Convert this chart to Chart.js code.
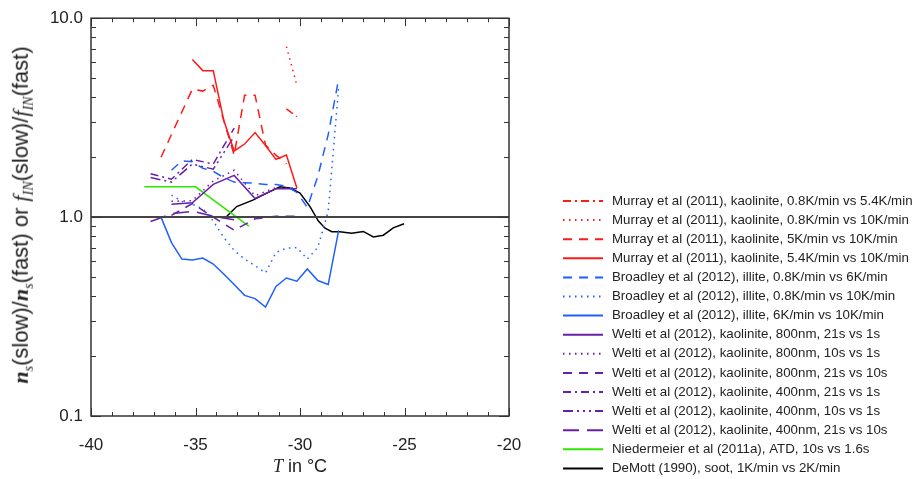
<!DOCTYPE html>
<html>
<head>
<meta charset="utf-8">
<script src="https://cdn.jsdelivr.net/npm/chart.js@4"></script>
<style>
  body { margin: 0; background: #fff; }
  #wrap { position: relative; width: 914px; height: 479px; }
  #chart { position: absolute; left: 0; top: 0; }
  .axis-title { position: absolute; font-family: "Liberation Sans", Arial, sans-serif; color: #222; white-space: nowrap; line-height: 1; }
  .axis-title i { font-family: "Liberation Serif", serif; }
  .axis-title sub { font-family: "Liberation Serif", serif; font-style: italic; }
  #xTitle { font-size: 18px; left: 300px; top: 466px; transform: translate(-50%, -50%); }
  #yTitle { font-size: 22px; left: 23px; top: 215px; transform: translate(-50%, -50%) rotate(-90deg); }
  #yTitle sub { font-size: 14px; }
</style>
</head>
<body>
<div id="wrap">
  <canvas id="chart" width="914" height="479"></canvas>
  <div class="axis-title" id="xTitle"><i>T</i> in °C</div>
  <div class="axis-title" id="yTitle"><b><i>n</i></b><sub>s</sub>(slow)/<b><i>n</i></b><sub>s</sub>(fast) or <i>f</i><sub>IN</sub>(slow)/<i>f</i><sub>IN</sub>(fast)</div>
</div>
<script>
// axis ranges and tick labels
const xRange = [-40, -20];
const yRange = [0.1, 10];
const yTickValues = [0.1, 1, 10];

// Murray et al (2011), kaolinite
const murray08v54T = [-30.65, -30.15];
const murray08v54 = [3.5, 3.2];
const murray08v10T = [-30.65, -30.15];
const murray08v10 = [7.2, 4.6];
const murray5v10T = [-36.65, -35.15, -34.65, -34.15, -33.15, -32.65, -32.15, -31.65, -31.15, -30.65];
const murray5v10 = [2.0, 4.4, 4.3, 4.6, 2.05, 4.1, 4.1, 2.3, 2.05, 1.85];
const murray54v10T = [-35.15, -34.65, -34.15, -33.65, -33.15, -32.65, -32.15, -31.65, -31.15, -30.65, -30.15];
const murray54v10 = [6.2, 5.45, 5.45, 3.07, 2.15, 2.33, 2.66, 2.29, 1.95, 2.05, 1.4];

// Broadley et al (2012), illite
const broadley08v6T = [-36.15, -35.65, -35.15, -34.65, -34.15, -33.65, -33.15, -32.65, -32.15, -31.65, -31.15, -30.65, -30.15, -29.65, -29.15, -28.65, -28.15];
const broadley08v6 = [1.72, 1.92, 1.9, 1.76, 1.7, 1.58, 1.5, 1.49, 1.48, 1.46, 1.46, 1.43, 1.33, 1.12, 1.6, 2.6, 4.95];
const broadley08v10T = [-36.15, -35.65, -35.15, -34.65, -34.15, -33.65, -33.15, -32.65, -32.15, -31.65, -31.15, -30.65, -30.15, -29.65, -29.15, -28.65, -28.15];
const broadley08v10 = [1.29, 1.2, 1.16, 1.1, 0.955, 0.79, 0.68, 0.615, 0.57, 0.524, 0.664, 0.698, 0.703, 0.615, 0.703, 1.07, 4.5];
const broadley6v10T = [-36.65, -36.15, -35.65, -35.15, -34.65, -34.15, -33.65, -33.15, -32.65, -32.15, -31.65, -31.15, -30.65, -30.15, -29.65, -29.15, -28.65, -28.15];
const broadley6v10 = [1.0, 0.744, 0.615, 0.608, 0.622, 0.581, 0.518, 0.458, 0.404, 0.389, 0.353, 0.448, 0.494, 0.476, 0.549, 0.48, 0.458, 0.858];

// Welti et al (2012), kaolinite
const welti800T = [-36.15, -35.15, -34.15, -33.15, -32.15, -31.15, -30.15];
const welti800_21v1 = [1.16, 1.18, 1.46, 1.62, 1.24, 1.39, 1.39];
const welti800_10v1 = [1.2, 1.21, 1.52, 1.72, 1.28, 1.41, 1.4];
const welti800_21v10 = [1.02, 1.17, 1.0, 0.86, 0.98, 1.01, 1.01];
const welti400T = [-37.15, -36.15, -35.15, -34.15, -33.15];
const welti400_21v1 = [1.65, 1.55, 1.95, 1.85, 2.8];
const welti400_10v1 = [1.58, 1.5, 1.85, 1.74, 2.55];
const welti400_21v10 = [0.95, 1.04, 1.07, 1.01, 0.97];

// Niedermeier et al (2011a), ATD
const niedT = [-37.45, -35.0, -32.45];
const nied = [1.42, 1.42, 0.9];

// DeMott (1990), soot
const demottT = [-33.5, -33.03, -32.23, -31.59, -30.96, -30.48, -30.0, -29.52, -29.12, -28.8, -28.48, -28.09, -27.53, -26.97, -26.49, -26.01, -25.54, -25.02];
const demott = [1.01, 1.13, 1.22, 1.32, 1.42, 1.4, 1.32, 1.13, 0.955, 0.879, 0.845, 0.845, 0.829, 0.847, 0.795, 0.811, 0.883, 0.926];

// reference line at ratio 1
const refLineT = [-40, -20];
const refLine = [1, 1];

const RED = '#ff1a1a';
const BLUE = '#1f5fff';
const PURPLE = '#6a1fa8';
const GREEN = '#2ee600';

const DASH = [9, 7];
const DOT = [1.5, 4.5];
const DASHDOT = [8, 4, 2, 4];
const DASH3DOT = [10, 4, 2, 4, 2, 4, 2, 4];
const LONGDASH = [16, 8];

function pts(xs, ys) {
    return xs.map((x, i) => ({ x: x, y: ys[i] }));
}

function series(label, xs, ys, color, dash) {
    return {
        label: label,
        data: pts(xs, ys),
        borderColor: color,
        backgroundColor: color,
        borderWidth: 1.5,
        borderDash: dash || [],
        pointRadius: 0,
        tension: 0,
        fill: false
    };
}

const datasets = [
    Object.assign(series('', refLineT, refLine, '#444', []), { borderWidth: 2, isRef: true }),
    series('Murray et al (2011), kaolinite, 0.8K/min vs 5.4K/min', murray08v54T, murray08v54, RED, DASHDOT),
    series('Murray et al (2011), kaolinite, 0.8K/min vs 10K/min', murray08v10T, murray08v10, RED, DOT),
    series('Murray et al (2011), kaolinite, 5K/min vs 10K/min', murray5v10T, murray5v10, RED, DASH),
    series('Murray et al (2011), kaolinite, 5.4K/min vs 10K/min', murray54v10T, murray54v10, RED),
    series('Broadley et al (2012), illite, 0.8K/min vs 6K/min', broadley08v6T, broadley08v6, BLUE, DASH),
    series('Broadley et al (2012), illite, 0.8K/min vs 10K/min', broadley08v10T, broadley08v10, BLUE, DOT),
    series('Broadley et al (2012), illite, 6K/min vs 10K/min', broadley6v10T, broadley6v10, BLUE),
    series('Welti et al (2012), kaolinite, 800nm, 21s vs 1s', welti800T, welti800_21v1, PURPLE),
    series('Welti et al (2012), kaolinite, 800nm, 10s vs 1s', welti800T, welti800_10v1, PURPLE, DOT),
    series('Welti et al (2012), kaolinite, 800nm, 21s vs 10s', welti800T, welti800_21v10, PURPLE, DASH),
    series('Welti et al (2012), kaolinite, 400nm, 21s vs 1s', welti400T, welti400_21v1, PURPLE, DASHDOT),
    series('Welti et al (2012), kaolinite, 400nm, 10s vs 1s', welti400T, welti400_10v1, PURPLE, DASH3DOT),
    series('Welti et al (2012), kaolinite, 400nm, 21s vs 10s', welti400T, welti400_21v10, PURPLE, LONGDASH),
    series('Niedermeier et al (2011a), ATD, 10s vs 1.6s', niedT, nied, GREEN),
    series('DeMott (1990), soot, 1K/min vs 2K/min', demottT, demott, '#000')
];

// frame and inward tick marks, like the original plot
const frameTicks = {
    id: 'frameTicks',
    afterDraw(chart) {
        const ctx = chart.ctx;
        const a = chart.chartArea;
        const xs = chart.scales.x, ys = chart.scales.y;
        ctx.save();
        ctx.strokeStyle = '#333';
        ctx.lineWidth = 1;
        ctx.beginPath();
        for (let v = xRange[0]; v <= xRange[1]; v++) {
            const px = Math.round(xs.getPixelForValue(v)) + 0.5;
            const len = v % 5 === 0 ? 8 : 4;
            ctx.moveTo(px, a.bottom); ctx.lineTo(px, a.bottom - len);
            ctx.moveTo(px, a.top); ctx.lineTo(px, a.top + len);
        }
        for (let d = 0.1; d < 10; d *= 10) {
            for (let k = 1; k <= 10; k++) {
                const v = d * k;
                const py = Math.round(ys.getPixelForValue(v)) + 0.5;
                const len = k === 1 || k === 10 ? 10 : 5;
                ctx.moveTo(a.left, py); ctx.lineTo(a.left + len, py);
                ctx.moveTo(a.right, py); ctx.lineTo(a.right - len, py);
            }
        }
        ctx.stroke();
        ctx.lineWidth = 1.5;
        ctx.strokeRect(a.left, a.top, a.right - a.left, a.bottom - a.top);
        ctx.restore();
    }
};

// legend at the lower right, one row per dataset
const sideLegend = {
    id: 'sideLegend',
    afterDraw(chart) {
        const ctx = chart.ctx;
        ctx.save();
        ctx.font = '13.3px "Liberation Sans", Arial, sans-serif';
        ctx.textBaseline = 'middle';
        let row = 0;
        chart.data.datasets.forEach(ds => {
            if (ds.isRef) return;
            const y = 201 + row * 19.1;
            ctx.strokeStyle = ds.borderColor;
            ctx.lineWidth = 2;
            ctx.setLineDash(ds.borderDash);
            ctx.beginPath();
            ctx.moveTo(563, y);
            ctx.lineTo(603, y);
            ctx.stroke();
            ctx.setLineDash([]);
            ctx.fillStyle = '#222';
            ctx.fillText(ds.label, 612, y);
            row++;
        });
        ctx.restore();
    }
};

new Chart(document.getElementById('chart'), {
    type: 'line',
    data: { datasets: datasets },
    options: {
        responsive: false,
        animation: false,
        layout: { padding: { left: 0, right: 405, top: 15, bottom: 0 } },
        plugins: { legend: { display: false }, tooltip: { enabled: false } },
        scales: {
            x: {
                type: 'linear',
                min: xRange[0],
                max: xRange[1],
                grid: { display: false, drawTicks: false },
                border: { display: false },
                ticks: {
                    stepSize: 5,
                    padding: 19,
                    color: '#222',
                    font: { family: '"Liberation Sans", Arial, sans-serif', size: 17 }
                },
                afterFit(scale) { scale.height = 63; }
            },
            y: {
                type: 'logarithmic',
                min: yRange[0],
                max: yRange[1],
                grid: { display: false, drawTicks: false },
                border: { display: false },
                afterBuildTicks(scale) {
                    scale.ticks = yTickValues.map(v => ({ value: v }));
                },
                ticks: {
                    padding: 8,
                    color: '#222',
                    font: { family: '"Liberation Sans", Arial, sans-serif', size: 17 },
                    callback: v => Number(v).toFixed(1)
                },
                afterFit(scale) { scale.width = 91; }
            }
        }
    },
    plugins: [frameTicks, sideLegend]
});
</script>
</body>
</html>
